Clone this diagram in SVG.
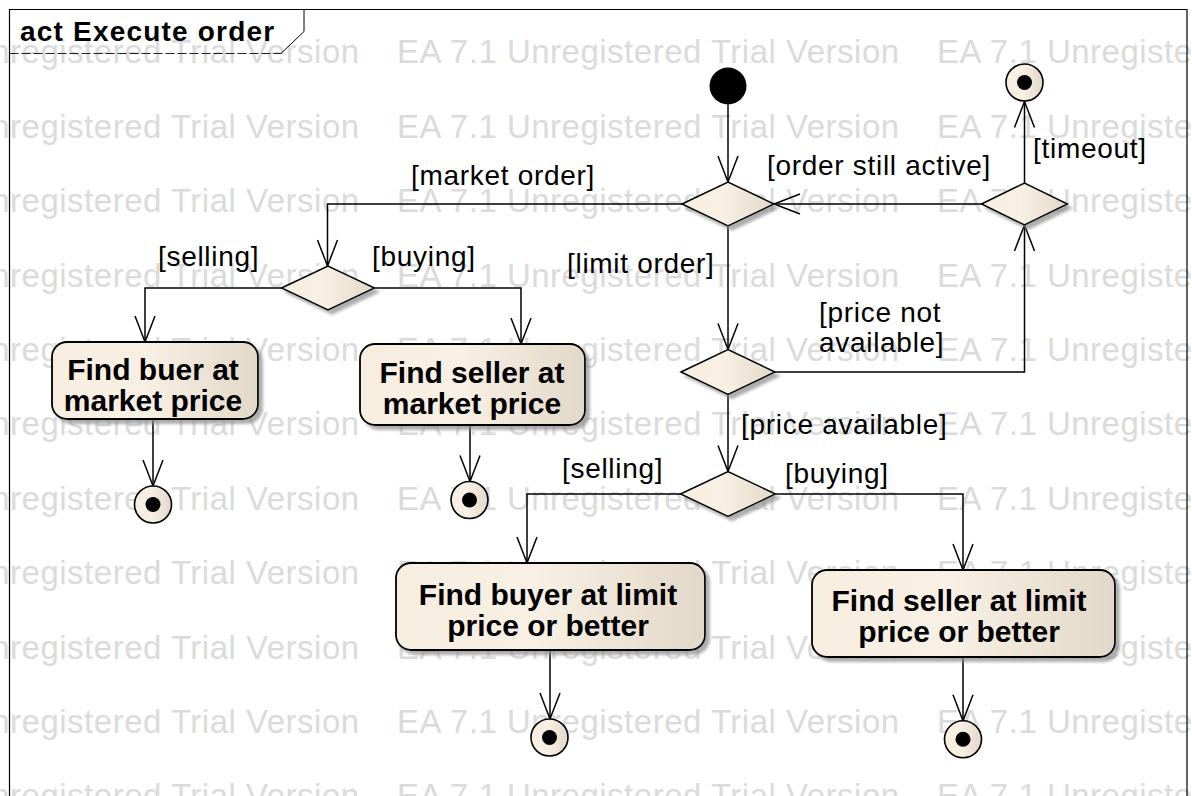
<svg xmlns="http://www.w3.org/2000/svg" width="1192" height="796" viewBox="0 0 1192 796">
<defs>
<style>
.wm{font-family:"Liberation Sans",Arial,sans-serif;font-size:33px;letter-spacing:0.5px;fill:#dbdbdb}
.lbl{font-family:"Liberation Sans",Arial,sans-serif;font-size:28px;letter-spacing:0.7px;fill:#000}
.nt{font-family:"Liberation Sans",Arial,sans-serif;font-size:30px;font-weight:bold;fill:#000;text-anchor:middle}
.ttl{font-family:"Liberation Sans",Arial,sans-serif;font-size:28px;font-weight:bold;letter-spacing:1.2px;fill:#000}
.act{fill:url(#g);stroke:#000;stroke-width:1.8;filter:url(#sh)}
.dec{fill:url(#g);stroke:#000;stroke-width:1.5;filter:url(#sh)}
.fin{fill:url(#g);stroke:#000;stroke-width:1.6}
.con{fill:none;stroke:#000;stroke-width:1.5}
</style>
<linearGradient id="g" x1="0" y1="0" x2="1" y2="0">
<stop offset="0" stop-color="#F7EEE0"/>
<stop offset="0.45" stop-color="#F8F0E4"/>
<stop offset="1" stop-color="#E2D8C9"/>
</linearGradient>
<filter id="sh" x="-10%" y="-10%" width="130%" height="140%">
<feDropShadow dx="4" dy="4" stdDeviation="1.5" flood-color="#8a8a8a" flood-opacity="0.7"/>
</filter>
<marker id="arr" markerUnits="userSpaceOnUse" markerWidth="32" markerHeight="26" viewBox="-28 -13 32 26" refX="0" refY="0" orient="auto" overflow="visible">
<path d="M-26,-10 L0,0 L-26,10" fill="none" stroke="#000" stroke-width="1.5"/>
</marker>
</defs>
<rect x="0" y="0" width="1192" height="796" fill="#fff"/>
<g id="watermark">
<text class="wm" x="-143" y="63.3">EA 7.1 Unregistered Trial Version</text><text class="wm" x="397" y="63.3">EA 7.1 Unregistered Trial Version</text><text class="wm" x="937" y="63.3">EA 7.1 Unregistered Trial Version</text>
<text class="wm" x="-143" y="137.7">EA 7.1 Unregistered Trial Version</text><text class="wm" x="397" y="137.7">EA 7.1 Unregistered Trial Version</text><text class="wm" x="937" y="137.7">EA 7.1 Unregistered Trial Version</text>
<text class="wm" x="-143" y="212.1">EA 7.1 Unregistered Trial Version</text><text class="wm" x="397" y="212.1">EA 7.1 Unregistered Trial Version</text><text class="wm" x="937" y="212.1">EA 7.1 Unregistered Trial Version</text>
<text class="wm" x="-143" y="286.5">EA 7.1 Unregistered Trial Version</text><text class="wm" x="397" y="286.5">EA 7.1 Unregistered Trial Version</text><text class="wm" x="937" y="286.5">EA 7.1 Unregistered Trial Version</text>
<text class="wm" x="-143" y="360.9">EA 7.1 Unregistered Trial Version</text><text class="wm" x="397" y="360.9">EA 7.1 Unregistered Trial Version</text><text class="wm" x="937" y="360.9">EA 7.1 Unregistered Trial Version</text>
<text class="wm" x="-143" y="435.3">EA 7.1 Unregistered Trial Version</text><text class="wm" x="397" y="435.3">EA 7.1 Unregistered Trial Version</text><text class="wm" x="937" y="435.3">EA 7.1 Unregistered Trial Version</text>
<text class="wm" x="-143" y="509.7">EA 7.1 Unregistered Trial Version</text><text class="wm" x="397" y="509.7">EA 7.1 Unregistered Trial Version</text><text class="wm" x="937" y="509.7">EA 7.1 Unregistered Trial Version</text>
<text class="wm" x="-143" y="584.1">EA 7.1 Unregistered Trial Version</text><text class="wm" x="397" y="584.1">EA 7.1 Unregistered Trial Version</text><text class="wm" x="937" y="584.1">EA 7.1 Unregistered Trial Version</text>
<text class="wm" x="-143" y="658.5">EA 7.1 Unregistered Trial Version</text><text class="wm" x="397" y="658.5">EA 7.1 Unregistered Trial Version</text><text class="wm" x="937" y="658.5">EA 7.1 Unregistered Trial Version</text>
<text class="wm" x="-143" y="732.9">EA 7.1 Unregistered Trial Version</text><text class="wm" x="397" y="732.9">EA 7.1 Unregistered Trial Version</text><text class="wm" x="937" y="732.9">EA 7.1 Unregistered Trial Version</text>
<text class="wm" x="-143" y="807.3">EA 7.1 Unregistered Trial Version</text><text class="wm" x="397" y="807.3">EA 7.1 Unregistered Trial Version</text><text class="wm" x="937" y="807.3">EA 7.1 Unregistered Trial Version</text>
</g>
<g id="frame">
<path d="M9.5,820 V9.5 H1187 V820" fill="none" stroke="#000" stroke-width="1.2"/>
<path d="M304,9.5 V31.5 L281,53.5" fill="none" stroke="#000" stroke-width="1"/>
<path d="M9.5,53.5 H281" fill="none" stroke="#222" stroke-width="1" stroke-dasharray="9 3"/>
<text class="ttl" x="20" y="40.5">act Execute order</text>
</g>
<g id="connectors">
<path class="con" d="M728,104.5 V182" marker-end="url(#arr)"/>
<path class="con" d="M682,204 H327.5 V266" marker-end="url(#arr)"/>
<path class="con" d="M981.5,204 H774" marker-end="url(#arr)"/>
<path class="con" d="M1024.5,183 V101.5" marker-end="url(#arr)"/>
<path class="con" d="M728,226 V349.5" marker-end="url(#arr)"/>
<path class="con" d="M775,372 H1024.5 V225" marker-end="url(#arr)"/>
<path class="con" d="M728,394.5 V471.5" marker-end="url(#arr)"/>
<path class="con" d="M281.5,288 H145 V342" marker-end="url(#arr)"/>
<path class="con" d="M374.5,288 H521 V344" marker-end="url(#arr)"/>
<path class="con" d="M153,419 V486" marker-end="url(#arr)"/>
<path class="con" d="M470,425 V481.5" marker-end="url(#arr)"/>
<path class="con" d="M680.5,494 H527 V563" marker-end="url(#arr)"/>
<path class="con" d="M775.5,494 H963 V570" marker-end="url(#arr)"/>
<path class="con" d="M550,650 V719" marker-end="url(#arr)"/>
<path class="con" d="M963,657 V720.8" marker-end="url(#arr)"/>
</g>
<g id="labels">
<text class="lbl" x="411" y="185">[market order]</text>
<text class="lbl" x="767" y="175">[order still active]</text>
<text class="lbl" x="1033" y="158">[timeout]</text>
<text class="lbl" x="158" y="266">[selling]</text>
<text class="lbl" x="372" y="266">[buying]</text>
<text class="lbl" x="567" y="273">[limit order]</text>
<text class="lbl" x="819" y="321.6">[price not</text>
<text class="lbl" x="819" y="351.6">available]</text>
<text class="lbl" x="741" y="434">[price available]</text>
<text class="lbl" x="562" y="477.6">[selling]</text>
<text class="lbl" x="785" y="482.6">[buying]</text>
</g>
<g id="initial"><circle cx="728" cy="86" r="18.5" fill="#000"/></g>
<g id="dec-order"><polygon class="dec" points="682,204 728,182 774,204 728,226"/></g>
<g id="dec-loop"><polygon class="dec" points="981.5,204 1024.5,183 1067.5,204 1024.5,225"/></g>
<g id="final-timeout"><circle class="fin" cx="1024.5" cy="82.5" r="18.5"/><circle cx="1024.5" cy="82.5" r="7.5" fill="#000"/></g>
<g id="dec-market"><polygon class="dec" points="281.5,288 328,266 374.5,288 328,310"/></g>
<g id="act-buyer-market"><rect class="act" x="52" y="342" width="206" height="77" rx="15" ry="15"/><text class="nt" x="153" y="380">Find buer at</text><text class="nt" x="153" y="410.5">market price</text></g>
<g id="act-seller-market"><rect class="act" x="360" y="344" width="225" height="81" rx="15" ry="15"/><text class="nt" x="472" y="383">Find seller at</text><text class="nt" x="472" y="414">market price</text></g>
<g id="final-1"><circle class="fin" cx="153" cy="504.5" r="18.5"/><circle cx="153" cy="504.5" r="7.5" fill="#000"/></g>
<g id="final-2"><circle class="fin" cx="469.5" cy="500" r="18.5"/><circle cx="469.5" cy="500" r="7.5" fill="#000"/></g>
<g id="dec-limit"><polygon class="dec" points="681,372 728,349.5 775,372 728,394.5"/></g>
<g id="dec-side"><polygon class="dec" points="680.5,494 728,471.5 775.5,494 728,516.5"/></g>
<g id="act-buyer-limit"><rect class="act" x="396" y="563" width="309" height="87" rx="15" ry="15"/><text class="nt" x="548" y="604.5">Find buyer at limit</text><text class="nt" x="548" y="635.5">price or better</text></g>
<g id="act-seller-limit"><rect class="act" x="812" y="570" width="303" height="87" rx="15" ry="15"/><text class="nt" x="959" y="610.5">Find seller at limit</text><text class="nt" x="959" y="641.5">price or better</text></g>
<g id="final-3"><circle class="fin" cx="549.5" cy="737.5" r="18.5"/><circle cx="549.5" cy="737.5" r="7.5" fill="#000"/></g>
<g id="final-4"><circle class="fin" cx="963" cy="739.3" r="18.5"/><circle cx="963" cy="739.3" r="7.5" fill="#000"/></g>
</svg>
